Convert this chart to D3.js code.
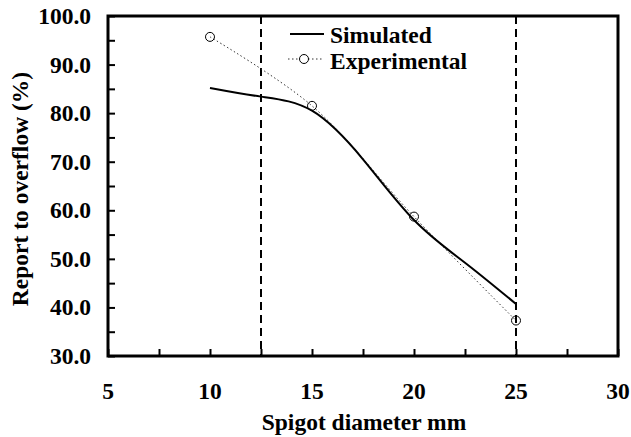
<!DOCTYPE html>
<html>
<head>
<meta charset="utf-8">
<script src="https://cdn.jsdelivr.net/npm/d3@7"></script>
<style>
  body { margin: 0; background: #fff; }
  .lbl { font-family: "Liberation Serif"; font-weight: bold; }
</style>
</head>
<body>
<svg width="631" height="437"></svg>
<script>
// data
const simX = [10, 12.5, 15, 17.5, 20, 22.5, 25];
const simY = [85.2, 83.4, 80.5, 70.5, 58.0, 49.2, 40.7];
const expX = [10, 15, 20, 25];
const expY = [95.7, 81.5, 58.7, 37.3];
const markerX = [12.5, 25];
const xTicks = [5, 10, 15, 20, 25, 30];
const yTicks = [30, 40, 50, 60, 70, 80, 90, 100];
const legendLabels = ["Simulated", "Experimental"];

const svg = d3.select("svg");
const area = { left: 108, right: 618, top: 16, bottom: 356 };
const fs = 23.5;

const scX = d3.scaleLinear().domain([5, 30]).range([area.left, area.right]);
const scY = d3.scaleLinear().domain([30, 100]).range([area.bottom, area.top]);

// ticks pointing inward
const axisX = d3.axisBottom(scX).tickValues(d3.range(5, 30.1, 2.5)).tickSizeInner(-7).tickSizeOuter(0).tickFormat("");
const axisY = d3.axisLeft(scY).tickValues(d3.range(30, 100.1, 5)).tickSizeInner(-7).tickSizeOuter(0).tickFormat("");

const gx = svg.append("g").attr("transform", `translate(0,${area.bottom})`).call(axisX);
const gy = svg.append("g").attr("transform", `translate(${area.left},0)`).call(axisY);
[gx, gy].forEach(g => {
    g.select(".domain").remove();
    g.selectAll(".tick line").attr("stroke", "#000").attr("stroke-width", 2);
});

// frame
svg.append("rect")
    .attr("x", area.left).attr("y", area.top)
    .attr("width", area.right - area.left).attr("height", area.bottom - area.top)
    .attr("fill", "none").attr("stroke", "#000").attr("stroke-width", 3);

// tick labels
svg.selectAll(".xl").data(xTicks).enter().append("text")
    .attr("class", "lbl")
    .attr("x", d => scX(d)).attr("y", 399)
    .attr("text-anchor", "middle").attr("font-size", fs)
    .text(d => d);
svg.selectAll(".yl").data(yTicks).enter().append("text")
    .attr("class", "lbl")
    .attr("x", 91).attr("y", d => scY(d) + 8)
    .attr("text-anchor", "end").attr("font-size", fs)
    .text(d => d.toFixed(1));

// axis titles
svg.append("text").attr("class", "lbl")
    .attr("x", (area.left + area.right) / 2 + 1).attr("y", 430)
    .attr("text-anchor", "middle").attr("font-size", fs).text("Spigot diameter mm");
svg.append("text").attr("class", "lbl")
    .attr("transform", `translate(28,${(area.top + area.bottom) / 2 + 3}) rotate(-90)`)
    .attr("text-anchor", "middle").attr("font-size", fs).text("Report to overflow (%)");

// dashed vertical markers
svg.selectAll(".vm").data(markerX).enter().append("line")
    .attr("x1", d => scX(d)).attr("x2", d => scX(d))
    .attr("y1", area.top).attr("y2", area.bottom)
    .attr("stroke", "#000").attr("stroke-width", 2).attr("stroke-dasharray", "8,5");

// experimental: dotted smooth line + hollow circles
const expData = expX.map((x, i) => ({ x: x, y: expY[i] }));
svg.append("path").datum(expData)
    .attr("d", d3.line().x(d => scX(d.x)).y(d => scY(d.y)).curve(d3.curveCatmullRom))
    .attr("fill", "none").attr("stroke", "#333").attr("stroke-width", 1).attr("stroke-dasharray", "1.5,2.5");
svg.selectAll(".pt").data(expData).enter().append("circle")
    .attr("cx", d => scX(d.x)).attr("cy", d => scY(d.y)).attr("r", 4.5)
    .attr("fill", "none").attr("stroke", "#000").attr("stroke-width", 1);

// simulated: solid smooth line
const simData = simX.map((x, i) => ({ x: x, y: simY[i] }));
svg.append("path").datum(simData)
    .attr("d", d3.line().x(d => scX(d.x)).y(d => scY(d.y)).curve(d3.curveNatural))
    .attr("fill", "none").attr("stroke", "#000").attr("stroke-width", 2);

// legend
const leg = svg.append("g");
leg.append("line").attr("x1", 290).attr("x2", 324).attr("y1", 34).attr("y2", 34)
    .attr("stroke", "#000").attr("stroke-width", 2);
leg.append("line").attr("x1", 288).attr("x2", 324).attr("y1", 59).attr("y2", 59)
    .attr("stroke", "#333").attr("stroke-width", 1).attr("stroke-dasharray", "1.5,2.5");
leg.append("circle").attr("cx", 304).attr("cy", 59).attr("r", 4.5)
    .attr("fill", "#fff").attr("stroke", "#000").attr("stroke-width", 1);
leg.selectAll("text").data(legendLabels).enter().append("text")
    .attr("class", "lbl")
    .attr("x", 330).attr("y", (d, i) => 43 + i * 26)
    .attr("font-size", fs).text(d => d);
</script>
</body>
</html>
